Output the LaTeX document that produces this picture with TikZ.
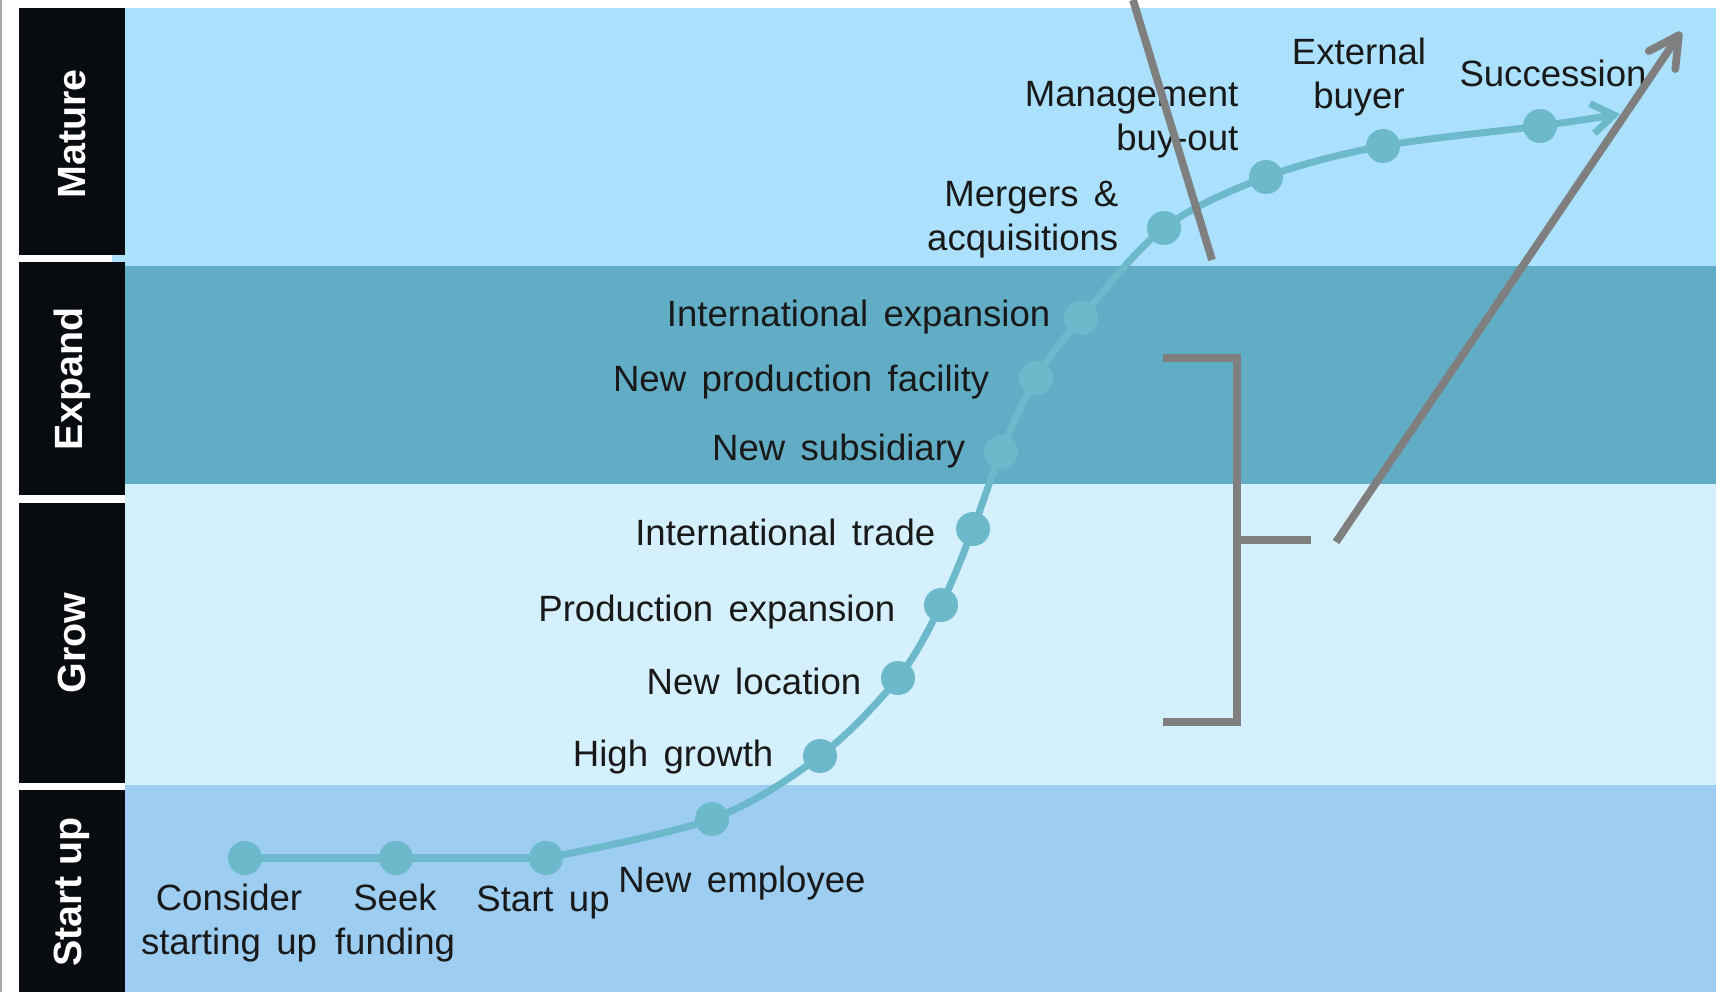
\documentclass[tikz,border=0pt]{standalone}
\usepackage{fontspec}
\setmainfont{Liberation Sans}
\usetikzlibrary{arrows.meta}
\definecolor{matureband}{HTML}{ABE1FD}
\definecolor{expandband}{HTML}{62ADC6}
\definecolor{growband}{HTML}{D4F0FD}
\definecolor{startband}{HTML}{9DCDF1}
\definecolor{stagebox}{HTML}{080C10}
\definecolor{curveblue}{HTML}{6CB9CC}
\definecolor{markgray}{HTML}{7F7F7F}

\begin{document}
\begin{tikzpicture}[x=0.01cm, y=-0.01cm,
		stage/.style={text=white, inner sep=0pt, rotate=90, font=\fontsize{11.2}{13}\selectfont\bfseries},
		dot/.style={circle, fill=curveblue, inner sep=0pt, minimum size=0.34cm},
		lbl/.style={inner sep=0pt, text=black!90, font=\fontsize{10.4}{12.5}\selectfont, execute at begin node={\spaceskip=0.42em\relax}},
		curve/.style={curveblue, line width=2pt},
		marker/.style={markgray, line width=2.2pt}]
		\useasboundingbox (0,0) rectangle (1716,992);
		\fill[white] (0,0) rectangle (1716,992);
		\draw[black!35, line width=0.6pt] (1,0) -- (1,992);
		
		\fill[matureband] (112,8) rectangle (1716,266);
		\fill[expandband] (125,266) rectangle (1716,484);
		\fill[growband] (125,484) rectangle (1716,785);
		\fill[startband] (125,785) rectangle (1716,992);
		
		\fill[stagebox] (19,8) rectangle (125,255);
		\fill[stagebox] (19,262) rectangle (125,495);
		\fill[stagebox] (19,503) rectangle (125,783);
		\fill[stagebox] (19,790) rectangle (125,992);
		\node[stage] (mature) at (72,134) {Mature};
		\node[stage] (expand) at (72,379) {Expand};
		\node[stage] (grow) at (72,643) {Grow};
		\node[stage] (startstage) at (72,892) {Start up};
		
		\node[dot] (consider) at (245,858) {};
		\node[dot] (seek) at (396,858) {};
		\node[dot] (startup) at (546,858) {};
		\node[dot] (employee) at (712,819) {};
		\node[dot] (highgrowth) at (820,756) {};
		\node[dot] (location) at (898,678) {};
		\node[dot] (prodexp) at (941,605) {};
		\node[dot] (trade) at (973,529) {};
		\node[dot] (subsidiary) at (1001,452) {};
		\node[dot] (facility) at (1036,378) {};
		\node[dot] (intexp) at (1081,318) {};
		\node[dot] (mergers) at (1164,228) {};
		\node[dot] (mbo) at (1266,177) {};
		\node[dot] (buyer) at (1383,146) {};
		\node[dot] (succession) at (1540,126) {};
		\coordinate (curveend) at (1620,114);
		
		\draw[curve] (consider.center) -- (startup.center);
		\draw[curve, -{Straight Barb[length=0.22cm, width=0.3cm]}] plot[smooth, tension=0.55] coordinates {(startup.center) (employee.center) (highgrowth.center) (location.center) (prodexp.center) (trade.center) (subsidiary.center) (facility.center) (intexp.center) (mergers.center) (mbo.center) (buyer.center) (succession.center) (curveend)};
		
		\node[lbl, align=center] (lconsider) at (229,923) {Consider\\starting up};
		\node[lbl, align=center] (lseek) at (395,923) {Seek\\funding};
		\node[lbl] (lstartup) at (543,903) {Start up};
		\node[lbl] (lemployee) at (742,883) {New employee};
		\node[lbl, anchor=east] (lhighgrowth) at (774,757) {High growth};
		\node[lbl, anchor=east] (llocation) at (862,681) {New location};
		\node[lbl, anchor=east] (lprodexp) at (896,612) {Production expansion};
		\node[lbl, anchor=east] (ltrade) at (936,532) {International trade};
		\node[lbl, anchor=east] (lsubsidiary) at (966,451) {New subsidiary};
		\node[lbl, anchor=east] (lfacility) at (990,382) {New production facility};
		\node[lbl, anchor=east] (lintexp) at (1051,317) {International expansion};
		\node[lbl, align=right, anchor=east] (lmergers) at (1119,220) {Mergers \&\\acquisitions};
		\node[lbl, align=right, anchor=east] (lmbo) at (1239,120) {Management\\buy-out};
		\node[lbl, align=center] (lbuyer) at (1359,77) {External\\buyer};
		\node[lbl] (lsuccession) at (1553,73) {Succession};
		
		\coordinate (slashtop) at (1133,0);
		\coordinate (slashbot) at (1212,260);
		\draw[marker] (slashtop) -- (slashbot);
		\draw[marker] (1163,358) -- (1237,358) -- (1237,722) -- (1163,722);
		\coordinate (bracketmid) at (1237,540);
		\coordinate (bracketend) at (1311,540);
		\draw[marker] (bracketmid) -- (bracketend);
		\coordinate (arrowfoot) at (1336,542);
		\coordinate (arrowtip) at (1681,32);
		\draw[marker, -{Straight Barb[length=0.3cm, width=0.32cm, round]}] (arrowfoot) -- (arrowtip);
	\end{tikzpicture}
\end{document}
